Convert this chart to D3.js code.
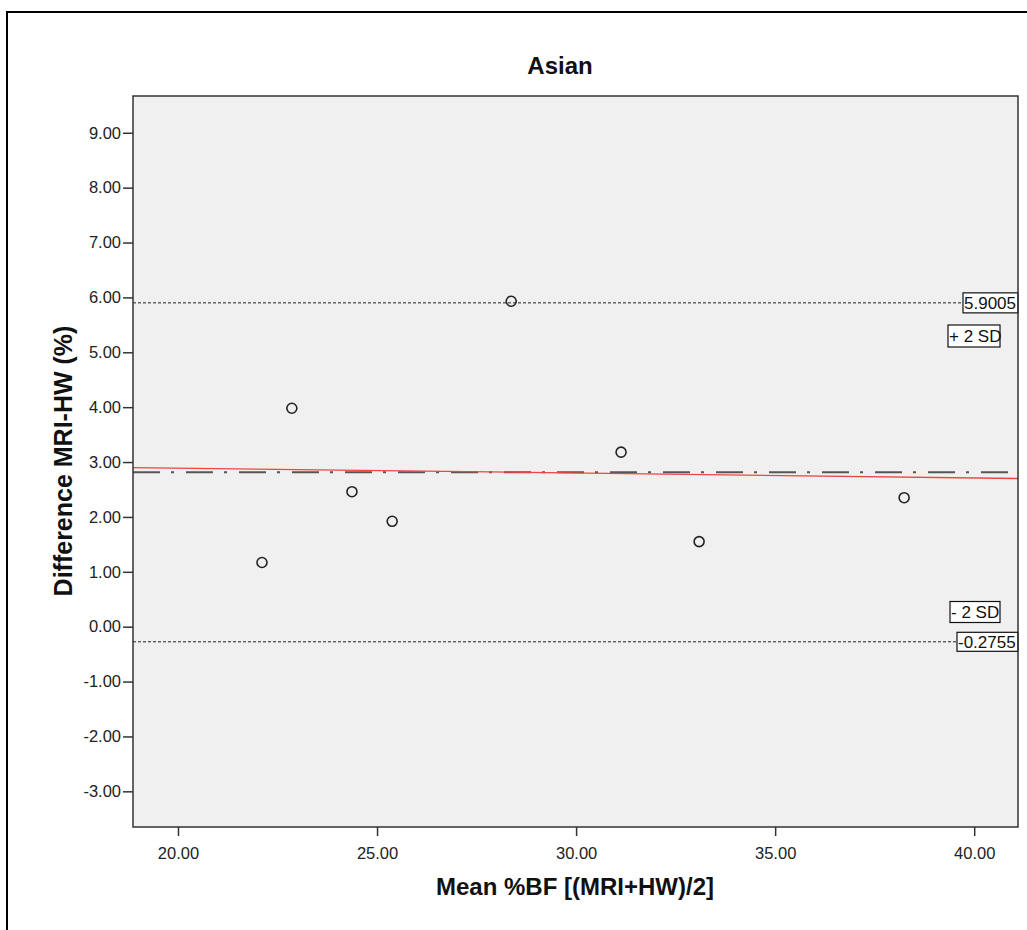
<!DOCTYPE html>
<html><head><meta charset="utf-8">
<script src="https://cdn.jsdelivr.net/npm/d3@7"></script>
<style>body{margin:0;background:#fff}svg{display:block}text{font-family:"Liberation Sans",Arial,sans-serif}</style>
</head><body>
<script>
const meanBF = [22.11, 22.86, 24.37, 25.38, 28.37, 31.13, 33.09, 38.24];
const diffBF = [1.17, 3.98, 2.46, 1.92, 5.93, 3.18, 1.55, 2.35];
const meanDiff = 2.8125;
const upperLimit = 5.9005;
const lowerLimit = -0.2755;
const regLine = [[18.87, 2.90], [41.1, 2.70]];
const xTicks = [20, 25, 30, 35, 40];
const yTicks = [-3, -2, -1, 0, 1, 2, 3, 4, 5, 6, 7, 8, 9];

const W = 1027, H = 930;
const fmt = d => d3.format(".2f")(d).replace("\u2212", "-");
const svg = d3.select("body").append("svg").attr("width", W).attr("height", H);
svg.append("rect").attr("width", W).attr("height", H).attr("fill", "#fff");
// outer frame
svg.append("rect").attr("x", 7).attr("y", 12).attr("width", W + 20).attr("height", H + 20)
  .attr("fill", "none").attr("stroke", "#000").attr("stroke-width", 2);

const L = 133, R = 1018, T = 96, B = 827;
const x = d3.scaleLinear().domain([18.87, 41.1]).range([L, R]);
const y = d3.scaleLinear().domain([-3.65, 9.67]).range([B, T]);

svg.append("rect").attr("x", L).attr("y", T).attr("width", R - L).attr("height", B - T)
  .attr("fill", "#f0f0f0");

// lines
const g = svg.append("g");
g.append("line").attr("x1", L).attr("x2", R).attr("y1", y(upperLimit)).attr("y2", y(upperLimit))
  .attr("stroke", "#222").attr("stroke-width", 1).attr("stroke-dasharray", "3,2");
g.append("line").attr("x1", L).attr("x2", R).attr("y1", y(lowerLimit)).attr("y2", y(lowerLimit))
  .attr("stroke", "#222").attr("stroke-width", 1).attr("stroke-dasharray", "3,2");
g.append("line").attr("x1", L).attr("x2", R).attr("y1", y(meanDiff)).attr("y2", y(meanDiff))
  .attr("stroke", "#555").attr("stroke-width", 2).attr("stroke-dasharray", "27,11,3,12");
g.append("line").attr("x1", x(regLine[0][0])).attr("x2", x(regLine[1][0]))
  .attr("y1", y(regLine[0][1])).attr("y2", y(regLine[1][1]))
  .attr("stroke", "#ee4444").attr("stroke-width", 1.3);

// points
g.selectAll("circle").data(meanBF).join("circle")
  .attr("cx", d => x(d)).attr("cy", (d, i) => y(diffBF[i])).attr("r", 5)
  .attr("fill", "none").attr("stroke", "#222").attr("stroke-width", 1.6);

// labels with boxes
function box(txt, xl, yc, w, h) {
  svg.append("rect").attr("x", xl).attr("y", yc - h / 2).attr("width", w).attr("height", h)
    .attr("fill", "#fff").attr("stroke", "#111").attr("stroke-width", 1.2);
  svg.append("text").attr("x", xl + 1).attr("y", yc + 6).attr("font-size", 17).attr("fill", "#111").text(txt);
}
box(upperLimit.toFixed(4), 963, y(upperLimit), 55, 20);
box("+ 2 SD", 948, 336, 52, 22);
box("- 2 SD", 950, 612, 50, 21);
box(lowerLimit.toFixed(4), 957, y(lowerLimit), 61, 19);

// plot border
svg.append("rect").attr("x", L).attr("y", T).attr("width", R - L).attr("height", B - T)
  .attr("fill", "none").attr("stroke", "#333").attr("stroke-width", 1.5);

// axes
const ya = svg.append("g").attr("transform", `translate(${L},0)`)
  .call(d3.axisLeft(y).tickValues(yTicks).tickFormat(fmt).tickSize(10).tickSizeOuter(0));
ya.select(".domain").remove();
ya.selectAll("line").attr("stroke", "#333").attr("stroke-width", 1.5);
ya.selectAll("text").attr("font-size", 16.5).attr("fill", "#222").attr("x", -12).attr("font-family", "Liberation Sans, Arial");

const xa = svg.append("g").attr("transform", `translate(0,${B})`)
  .call(d3.axisBottom(x).tickValues(xTicks).tickFormat(fmt).tickSize(9).tickSizeOuter(0));
xa.select(".domain").remove();
xa.selectAll("line").attr("stroke", "#333").attr("stroke-width", 1.5);
xa.selectAll("text").attr("font-size", 16.5).attr("fill", "#222").attr("y", 20).attr("font-family", "Liberation Sans, Arial");

// titles
svg.append("text").attr("x", 560).attr("y", 74).attr("text-anchor", "middle")
  .attr("font-size", 24).attr("font-weight", "bold").attr("fill", "#111").text("Asian");
svg.append("text").attr("x", 575).attr("y", 895).attr("text-anchor", "middle")
  .attr("font-size", 24).attr("font-weight", "bold").attr("fill", "#111").text("Mean %BF [(MRI+HW)/2]");
svg.append("text").attr("transform", `translate(72,461) rotate(-90)`).attr("text-anchor", "middle")
  .attr("font-size", 25).attr("font-weight", "bold").attr("fill", "#111").text("Difference MRI-HW (%)");
</script>
</body></html>
